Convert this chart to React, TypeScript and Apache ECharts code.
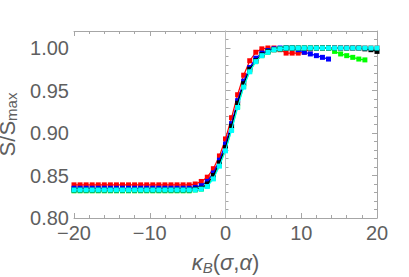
import React, { useEffect, useRef } from "react";
import * as echarts from "echarts";

const kappa = [-20, -19.2, -18.4, -17.6, -16.8, -16, -15.2, -14.4, -13.6, -12.8, -12, -11.2, -10.4, -9.6, -8.8, -8, -7.2, -6.4, -5.6, -4.8, -4, -3.2, -2.4, -1.6, -0.8, 0, 0.8, 1.6, 2.4, 3.2, 4, 4.8, 5.6, 6.4, 7.2, 8, 8.8, 9.6, 10.4, 11.2, 12, 12.8, 13.6, 14.4, 15.2, 16, 16.8, 17.6, 18.4, 19.2, 20];

const redVals = [0.839, 0.839, 0.839, 0.839, 0.839, 0.839, 0.839, 0.839, 0.839, 0.839, 0.839, 0.839, 0.839, 0.839, 0.839, 0.839, 0.839, 0.839, 0.839, 0.839, 0.840, 0.843, 0.848, 0.858, 0.873, 0.893, 0.918, 0.945, 0.968, 0.985, 0.995, 0.999, 1.0, 1.0, 0.998, 0.994, 0.994, 0.994, 0.995, 0.999, 1.0, 1.0, 1.0, 1.0, 1.0, 1.0, 1.0, 1.0, 1.0, 1.0, 1.0];
const blueVals = [0.835, 0.835, 0.835, 0.835, 0.835, 0.835, 0.835, 0.835, 0.835, 0.835, 0.835, 0.835, 0.835, 0.835, 0.835, 0.835, 0.835, 0.835, 0.835, 0.835, 0.836, 0.838, 0.843, 0.853, 0.868, 0.887, 0.911, 0.938, 0.961, 0.977, 0.988, 0.994, 0.997, 0.999, 1.0, 1.0, 1.0, 0.998, 0.995, 0.993, 0.991, 0.989, 0.987];
const greenVals = [0.832, 0.832, 0.832, 0.832, 0.832, 0.832, 0.832, 0.832, 0.832, 0.832, 0.832, 0.832, 0.832, 0.832, 0.832, 0.832, 0.832, 0.832, 0.832, 0.832, 0.833, 0.834, 0.838, 0.847, 0.862, 0.880, 0.904, 0.931, 0.955, 0.973, 0.984, 0.991, 0.995, 0.998, 0.999, 1.0, 1.0, 1.0, 1.0, 1.0, 1.0, 1.0, 1.0, 0.996, 0.993, 0.991, 0.989, 0.987, 0.986];
const blackVals = [0.833, 0.833, 0.833, 0.833, 0.833, 0.833, 0.833, 0.833, 0.833, 0.833, 0.833, 0.833, 0.833, 0.833, 0.833, 0.833, 0.833, 0.833, 0.833, 0.833, 0.834, 0.835, 0.840, 0.850, 0.865, 0.883, 0.908, 0.935, 0.958, 0.975, 0.985, 0.992, 0.996, 0.998, 0.999, 1.0, 1.0, 1.0, 1.0, 1.0, 1.0, 1.0, 1.0, 1.0, 1.0, 1.0, 1.0, 1.0, 0.999, 0.998, 0.996];
const cyanVals = [0.833, 0.833, 0.833, 0.833, 0.833, 0.833, 0.833, 0.833, 0.833, 0.833, 0.833, 0.833, 0.833, 0.833, 0.833, 0.833, 0.833, 0.833, 0.833, 0.833, 0.833, 0.834, 0.837, 0.846, 0.861, 0.879, 0.903, 0.930, 0.954, 0.972, 0.984, 0.991, 0.995, 0.998, 0.999, 1.0, 1.0, 1.0, 1.0, 1.0, 1.0, 1.0, 1.0, 1.0, 1.0, 1.0, 1.0, 1.0, 1.0, 1.0, 1.0];

const zeroLineX = [0, 0];
const zeroLineY = [0.8, 1.02];

const seriesDefs = [
  { name: "red", color: "#ff0000", vals: redVals },
  { name: "blue", color: "#0000ff", vals: blueVals },
  { name: "green", color: "#00ff00", vals: greenVals },
  { name: "black", color: "#000000", vals: blackVals },
  { name: "cyan", color: "#00ffff", vals: cyanVals },
];

const axisGray = "#a6a6a6";
const labelGray = "#5f5f5f";
const font = "'Liberation Sans', Arial, sans-serif";

export default function App() {
  const ref = useRef<HTMLDivElement>(null);
  useEffect(() => {
    if (!ref.current) return;
    const chart = echarts.init(ref.current, null, { renderer: "svg" });
    const baseX = {
      type: "value",
      min: -20,
      max: 20,
      interval: 10,
      axisLine: { show: true, lineStyle: { color: axisGray, width: 1 } },
      axisTick: { show: true, inside: true, length: 5, lineStyle: { color: axisGray } },
      minorTick: { show: true, splitNumber: 5, length: 3, lineStyle: { color: axisGray } },
      splitLine: { show: false },
      minorSplitLine: { show: false },
    };
    const yMajor = {
      type: "value",
      min: 0.8,
      max: 1.02,
      interval: 0.05,
      axisLine: { show: true, lineStyle: { color: axisGray, width: 1 } },
      axisTick: { show: true, inside: true, length: 5, lineStyle: { color: axisGray } },
      splitLine: { show: false },
    };
    const yMinor = {
      type: "value",
      min: 0.8,
      max: 1.02,
      interval: 0.01,
      axisLine: { show: false },
      axisTick: { show: true, inside: true, length: 3, lineStyle: { color: axisGray } },
      axisLabel: { show: false },
      splitLine: { show: false },
    };
    const option: any = {
      animation: false,
      backgroundColor: "#ffffff",
      grid: { left: 74, right: 32, top: 31, bottom: 59, containLabel: false, outerBoundsMode: "none" },
      xAxis: [
        {
          ...baseX,
          position: "bottom",
          axisLabel: {
            show: true,
            color: labelGray,
            fontSize: 20,
            fontFamily: font,
            margin: 5,
            formatter: (v: number) => (v < 0 ? "\u2212" + Math.abs(v) : String(v)),
          },
          name: "{i|\u03ba}{s|B}{n|(}{i|\u03c3}{n|,}{i|\u03b1}{n|)}",
          nameLocation: "middle",
          nameGap: 32,
          nameTextStyle: {
            rich: {
              i: { fontSize: 22, fontStyle: "italic", color: labelGray, fontFamily: font },
              n: { fontSize: 22, color: labelGray, fontFamily: font },
              s: { fontSize: 15, fontStyle: "italic", color: labelGray, fontFamily: font, padding: [10, 0, 0, 0] },
            },
          },
        },
        { ...baseX, position: "top", axisLabel: { show: false } },
      ],
      yAxis: [
        {
          ...yMajor,
          position: "left",
          axisLabel: {
            show: true,
            color: labelGray,
            fontSize: 20,
            fontFamily: font,
            margin: 5,
            showMaxLabel: false,
            formatter: (v: number) => v.toFixed(2),
          },
          name: "{n|S/S}{s|max}",
          nameLocation: "middle",
          nameGap: 44,
          nameRotate: 90,
          nameTextStyle: {
            rich: {
              n: { fontSize: 22, color: labelGray, fontFamily: font },
              s: { fontSize: 15, color: labelGray, fontFamily: font, padding: [9, 0, 0, 0] },
            },
          },
        },
        { ...yMinor, position: "left" },
        { ...yMajor, position: "right", axisLabel: { show: false } },
        { ...yMinor, position: "right" },
      ],
      series: [
        {
          name: "zero",
          type: "line",
          data: zeroLineX.map((x, i) => [x, zeroLineY[i]]),
          symbol: "none",
          lineStyle: { color: "#bdbdbd", width: 1 },
          silent: true,
          z: 1,
        },
        ...seriesDefs.map((s, idx) => ({
          name: s.name,
          type: "line",
          xAxisIndex: 0,
          yAxisIndex: 0,
          data: s.vals.map((v, i) => [kappa[i], v]),
          symbol: "rect",
          symbolSize: 5,
          showSymbol: true,
          itemStyle: { color: s.color },
          lineStyle: { color: s.color, width: 1.2 },
          z: 3 + idx,
        })),
      ],
    };
    chart.setOption(option);
    return () => chart.dispose();
  }, []);
  return (
    <div
      ref={ref}
      style={{ position: "absolute", left: 0, top: 0, width: 409, height: 277 }}
    />
  );
}
